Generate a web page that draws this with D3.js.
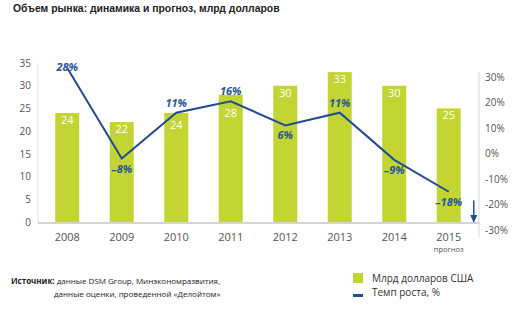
<!DOCTYPE html>
<html>
<head>
<meta charset="utf-8">
<script src="https://cdn.jsdelivr.net/npm/d3@7"></script>
<style>
  body { margin: 0; background: #fff; }
  text { font-family: "Open Sans", "Noto Sans", sans-serif; }
</style>
</head>
<body>
<div id="chart"></div>
<script>
const years = ["2008", "2009", "2010", "2011", "2012", "2013", "2014", "2015"];
const marketValues = [24, 22, 24, 28, 30, 33, 30, 25];
// line positions as drawn in the reference, read against the right axis
const growthValues = [33.5, -2, 16, 20.5, 11, 16, -2.5, -15];
const growthLabels = ["28%", "–8%", "11%", "16%", "6%", "11%", "–9%", "–18%"];
const growthLabelSide = ["on", "below", "above", "above", "below", "above", "below", "below"];
const leftTicks = [0, 5, 10, 15, 20, 25, 30, 35];
const rightTicks = [-30, -20, -10, 0, 10, 20, 30];

const width = 522, height = 312;
const green = "#c2d532", blue = "#1f4e96", grey = "#555";

const svg = d3.select("#chart").append("svg")
    .attr("width", width)
    .attr("height", height);

const x = d3.scaleBand()
    .domain(years)
    .range([40, 476])
    .paddingInner(0.56)
    .paddingOuter(0.28);

const y = d3.scaleLinear().domain([0, 35]).range([222, 63]);
const y2 = d3.scaleLinear().domain([-30, 30]).range([230, 77]);
const cx = i => x(years[i]) + x.bandwidth() / 2;

// title
svg.append("text")
    .attr("x", 13).attr("y", 12)
    .style("font-family", "'Liberation Sans', Arial, sans-serif")
    .style("font-size", "10.4px")
    .style("font-weight", "bold")
    .style("fill", "#222")
    .text("Объем рынка: динамика и прогноз, млрд долларов");

// left axis
const leftAxis = svg.append("g")
    .attr("transform", "translate(38,0)")
    .call(d3.axisLeft(y).tickValues(leftTicks).tickSize(0).tickPadding(7));
leftAxis.select(".domain").remove();
leftAxis.selectAll("text").style("font-size", "10px").style("fill", grey)
    .style("font-family", "'Open Sans', sans-serif");

svg.append("line")
    .attr("x1", 38).attr("x2", 38)
    .attr("y1", y(35)).attr("y2", y(0))
    .attr("stroke", "#e2e2e2").attr("stroke-width", 1);

// right axis
const rightAxis = svg.append("g")
    .attr("transform", "translate(480,0)")
    .call(d3.axisRight(y2).tickValues(rightTicks).tickSize(0).tickPadding(5)
        .tickFormat(d => d + "%"));
rightAxis.select(".domain").remove();
rightAxis.selectAll("text").style("font-size", "10px").style("fill", grey)
    .style("font-family", "'Open Sans', sans-serif");

svg.append("line")
    .attr("x1", 479).attr("x2", 479)
    .attr("y1", 72).attr("y2", 237)
    .attr("stroke", "#d8d8d8").attr("stroke-width", 1);

// bars
svg.selectAll(".bar")
    .data(marketValues)
    .enter().append("rect")
    .attr("class", "bar")
    .attr("x", (d, i) => x(years[i]))
    .attr("y", d => y(d))
    .attr("width", x.bandwidth())
    .attr("height", d => y(0) - y(d))
    .attr("fill", green);

// value labels sit at the bar top, pushed under the line where it crosses them
svg.selectAll(".bar-label")
    .data(marketValues)
    .enter().append("text")
    .attr("class", "bar-label")
    .attr("x", (d, i) => cx(i))
    .attr("y", (d, i) => {
        const top = y(d), ly = y2(growthValues[i]);
        if (ly > top - 8 && ly < top + 15) return Math.max(top + 11, ly + 16);
        return top + 11;
    })
    .attr("text-anchor", "middle")
    .style("font-size", "11px")
    .style("fill", "#fff")
    .text(d => d);

// bottom axis line
svg.append("line")
    .attr("x1", 38).attr("x2", 479)
    .attr("y1", y(0) + 1).attr("y2", y(0) + 1)
    .attr("stroke", "#d4d4d4").attr("stroke-width", 2);

// x labels
const xAxis = svg.append("g")
    .attr("transform", `translate(0,${y(0)})`)
    .call(d3.axisBottom(x).tickSize(0).tickPadding(11));
xAxis.select(".domain").remove();
xAxis.selectAll("text").style("font-size", "11px").style("fill", grey)
    .style("font-family", "'Open Sans', sans-serif");

svg.append("text")
    .attr("x", cx(7))
    .attr("y", 252)
    .attr("text-anchor", "middle")
    .style("font-size", "7.5px")
    .style("fill", grey)
    .text("прогноз");

// growth line
const line = d3.line()
    .x((d, i) => cx(i))
    .y(d => y2(d));

svg.append("path")
    .datum(growthValues)
    .attr("d", line)
    .attr("fill", "none")
    .attr("stroke", blue)
    .attr("stroke-width", 2);

svg.selectAll(".growth-label")
    .data(growthValues)
    .enter().append("text")
    .attr("class", "growth-label")
    .attr("x", (d, i) => cx(i))
    .attr("y", (d, i) => {
        const side = growthLabelSide[i];
        if (side === "above") return y2(d) - 6;
        if (side === "below") return y2(d) + 14;
        return y2(d) + 3;
    })
    .attr("text-anchor", "middle")
    .style("font-size", "11px")
    .style("font-weight", "bold")
    .style("font-style", "italic")
    .style("fill", "#2a5599")
    .text((d, i) => growthLabels[i]);

// forecast arrow
const ax = x("2015") + x.bandwidth() + 13;
svg.append("line")
    .attr("x1", ax).attr("x2", ax)
    .attr("y1", y2(-18) + 1).attr("y2", y(0) - 5)
    .attr("stroke", blue).attr("stroke-width", 1.5);
svg.append("path")
    .attr("d", `M${ax - 3.5},${y(0) - 7}L${ax + 3.5},${y(0) - 7}L${ax},${y(0) + 1}Z`)
    .attr("fill", blue);

// source
const src = svg.append("text")
    .attr("x", 11).attr("y", 284)
    .style("font-size", "8px")
    .style("fill", "#222");
src.append("tspan").style("font-weight", "bold").text("Источник:");
src.append("tspan").text(" данные DSM Group, Минэкономразвития,");
svg.append("text")
    .attr("x", 54).attr("y", 297)
    .style("font-size", "8px")
    .style("fill", "#222")
    .text("данные оценки, проведенной «Делойтом»");

// legend
svg.append("rect")
    .attr("x", 353).attr("y", 273)
    .attr("width", 10).attr("height", 10)
    .attr("fill", green);
svg.append("text")
    .attr("x", 372).attr("y", 282)
    .style("font-size", "10px")
    .style("fill", "#333")
    .text("Млрд долларов США");
svg.append("rect")
    .attr("x", 353).attr("y", 294)
    .attr("width", 10).attr("height", 3)
    .attr("fill", blue);
svg.append("text")
    .attr("x", 372).attr("y", 296)
    .style("font-size", "10px")
    .style("fill", "#333")
    .text("Темп роста, %");
</script>
</body>
</html>
